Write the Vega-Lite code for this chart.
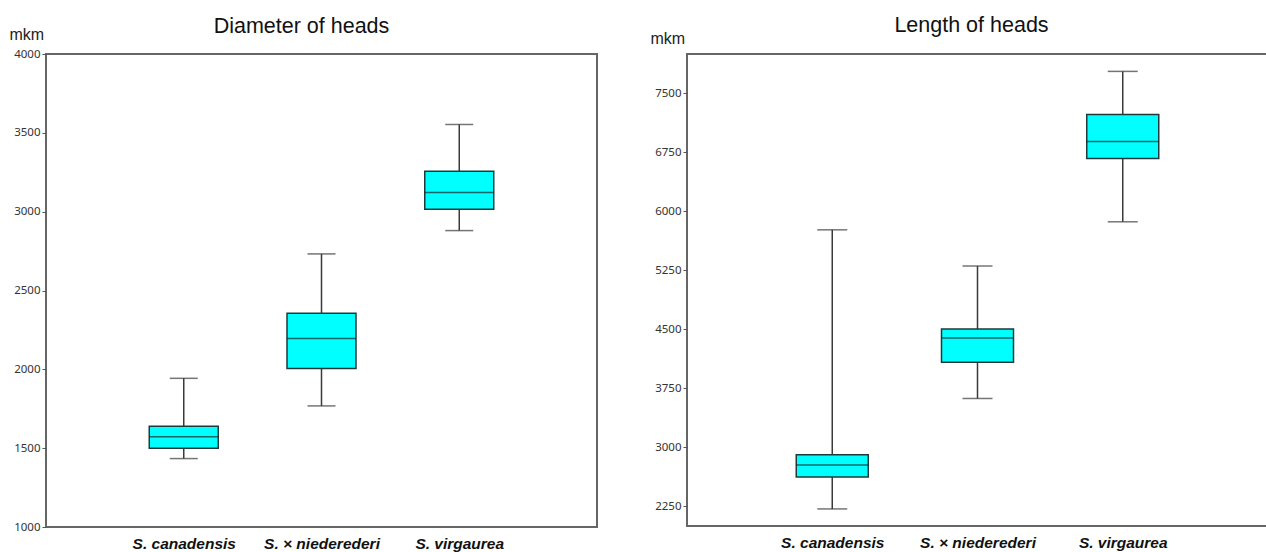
{
  "$schema": "https://vega.github.io/schema/vega-lite/v6.json",
  "background": "white",
  "padding": {"left": 8, "top": 13, "right": 0, "bottom": 0},
  "spacing": 51,
  "datasets": {
    "diam": [
      {"species": "S. canadensis", "min": 1434, "q1": 1500, "median": 1573, "q3": 1639, "max": 1943},
      {"species": "S. × niederederi", "min": 1768, "q1": 2006, "median": 2195, "q3": 2356, "max": 2732},
      {"species": "S. virgaurea", "min": 2880, "q1": 3015, "median": 3122, "q3": 3257, "max": 3553}
    ],
    "len": [
      {"species": "S. canadensis", "min": 2217, "q1": 2623, "median": 2775, "q3": 2906, "max": 5765},
      {"species": "S. × niederederi", "min": 3621, "q1": 4082, "median": 4391, "q3": 4505, "max": 5305},
      {"species": "S. virgaurea", "min": 5867, "q1": 6671, "median": 6887, "q3": 7230, "max": 7779}
    ]
  },
  "hconcat": [
    {
      "width": 551,
      "height": 473,
      "title": {"text": "Diameter of heads", "frame": "group", "anchor": "middle", "dx": -20, "offset": -11},
      "data": {"name": "diam"},
      "encoding": {
        "x": {"field": "species", "type": "nominal", "sort": ["S. canadensis", "S. × niederederi", "S. virgaurea"], "scale": {"type": "point", "padding": 1}, "title": null}
      },
      "layer": [
        {
          "mark": {"type": "rule", "color": "#3a3a3a", "strokeWidth": 1.5},
          "encoding": {
            "y": {"field": "min", "type": "quantitative", "title": "mkm", "scale": {"domain": [1000, 4000], "nice": false, "zero": false},
                  "axis": {"values": [1000, 1500, 2000, 2500, 3000, 3500, 4000], "format": "d", "titleY": -20}},
            "y2": {"field": "max"}
          }
        },
        {
          "mark": {"type": "tick", "size": 28, "thickness": 1.5, "color": "#3a3a3a"},
          "encoding": {"y": {"field": "min", "type": "quantitative", "title": "mkm"}}
        },
        {
          "mark": {"type": "tick", "size": 28, "thickness": 1.5, "color": "#3a3a3a"},
          "encoding": {"y": {"field": "max", "type": "quantitative", "title": "mkm"}}
        },
        {
          "mark": {"type": "bar", "size": 69, "fill": "#00FFFF", "stroke": "#1f3a3a", "strokeWidth": 1.5},
          "encoding": {"y": {"field": "q1", "type": "quantitative", "title": "mkm"}, "y2": {"field": "q3"}}
        },
        {
          "mark": {"type": "tick", "size": 69, "thickness": 1.5, "color": "#1a2a2a"},
          "encoding": {"y": {"field": "median", "type": "quantitative", "title": "mkm"}}
        }
      ]
    },
    {
      "width": 581,
      "height": 472,
      "title": {"text": "Length of heads", "frame": "group", "anchor": "middle", "dx": -6, "offset": -6},
      "data": {"name": "len"},
      "encoding": {
        "x": {"field": "species", "type": "nominal", "sort": ["S. canadensis", "S. × niederederi", "S. virgaurea"], "scale": {"type": "point", "padding": 1}, "title": null}
      },
      "layer": [
        {
          "mark": {"type": "rule", "color": "#3a3a3a", "strokeWidth": 1.5},
          "encoding": {
            "y": {"field": "min", "type": "quantitative", "title": "mkm", "scale": {"domain": [2000, 8000], "nice": false, "zero": false},
                  "axis": {"values": [2250, 3000, 3750, 4500, 5250, 6000, 6750, 7500], "format": "d", "titleY": -16}},
            "y2": {"field": "max"}
          }
        },
        {
          "mark": {"type": "tick", "size": 30, "thickness": 1.5, "color": "#3a3a3a"},
          "encoding": {"y": {"field": "min", "type": "quantitative", "title": "mkm"}}
        },
        {
          "mark": {"type": "tick", "size": 30, "thickness": 1.5, "color": "#3a3a3a"},
          "encoding": {"y": {"field": "max", "type": "quantitative", "title": "mkm"}}
        },
        {
          "mark": {"type": "bar", "size": 72, "fill": "#00FFFF", "stroke": "#1f3a3a", "strokeWidth": 1.5},
          "encoding": {"y": {"field": "q1", "type": "quantitative", "title": "mkm"}, "y2": {"field": "q3"}}
        },
        {
          "mark": {"type": "tick", "size": 72, "thickness": 1.5, "color": "#1a2a2a"},
          "encoding": {"y": {"field": "median", "type": "quantitative", "title": "mkm"}}
        }
      ]
    }
  ],
  "config": {
    "view": {"stroke": "#666666", "strokeWidth": 2},
    "title": {"font": "Liberation Sans", "fontSize": 21.5, "fontWeight": "normal", "color": "#111111"},
    "axisY": {
      "domain": false, "grid": false, "tickColor": "#555555", "tickSize": 4, "tickWidth": 1,
      "labelFont": "Noto Sans", "labelFontSize": 11.5, "labelColor": "#333333", "labelPadding": 2,
      "titleAngle": 0, "titleAlign": "left", "titleBaseline": "middle", "titleX": -37,
      "titleFont": "Liberation Sans", "titleFontSize": 16, "titleFontWeight": "normal", "titleColor": "#222222"
    },
    "axisX": {
      "domain": false, "grid": false, "ticks": false, "labelAngle": 0,
      "labelFont": "Liberation Sans", "labelFontSize": 15.5, "labelFontWeight": "bold", "labelFontStyle": "italic",
      "labelColor": "#111111", "labelPadding": 9
    }
  }
}
